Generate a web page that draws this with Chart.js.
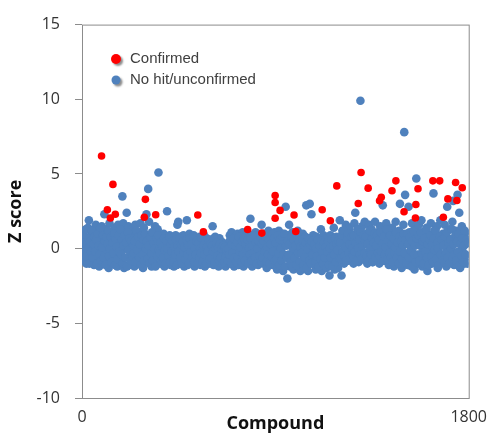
<!DOCTYPE html>
<html>
<head>
<meta charset="utf-8">
<script src="https://cdn.jsdelivr.net/npm/chart.js@4.4.1/dist/chart.umd.min.js"></script>
<style>
  html, body { margin: 0; background: #fff; }
</style>
</head>
<body>
<canvas id="zChart" width="497" height="435"></canvas>
<script>
// Z scores of the unconfirmed compounds, read for every 4th compound (0, 4, 8, ... 1796)
const compoundStep = 4;
const blueZ = [
  0.3,-0.6,1.1,-0.2,0.6,-1.0,0.1,1.4,1.9,0.8,-0.8,0.2,1.0,-0.1,-1.1,
  0.5,1.6,-0.5,0.0,1.2,-1.2,0.7,-0.3,1.5,0.3,-0.9,2.3,-0.1,1.3,-0.7,
  0.4,-1.3,1.7,0.1,-0.6,1.1,0.6,-1.0,1.4,-0.2,0.8,-1.2,1.6,0.2,-0.4,
  1.0,-0.9,3.5,1.7,-1.3,0.0,1.2,2.4,0.7,1.5,-1.1,0.3,-0.3,1.3,-0.8,
  0.9,-1.2,1.6,0.2,-0.5,1.1,-1.0,0.6,1.7,-0.2,0.4,-1.3,1.4,0.1,-0.7,
  2.3,-0.9,4.0,1.8,-0.4,0.0,-1.2,1.0,0.7,-0.6,1.5,-1.1,0.3,1.3,5.1,
  0.6,-1.0,0.2,0.9,-0.5,1.0,-1.2,0.4,-0.2,2.5,-0.8,0.1,0.9,-1.1,0.5,
  -0.4,0.7,-1.2,0.3,0.9,-0.7,1.6,1.8,0.5,-1.0,0.8,0.0,-0.6,0.9,-1.2,
  0.4,-0.3,1.9,-1.1,0.2,1.0,-0.6,0.6,-0.9,0.1,0.9,-1.2,0.5,-0.2,0.7,
  -0.8,0.3,0.8,-1.1,0.0,0.6,-0.5,0.9,-1.2,0.2,0.7,-0.7,0.4,-1.0,0.1,
  0.6,-0.4,1.5,-1.1,0.3,0.8,-0.8,0.0,0.5,-1.2,0.7,-0.3,0.2,-0.9,0.4,
  -0.6,0.3,-1.2,0.0,-0.4,0.2,-1.0,0.9,-0.2,1.1,-0.8,0.5,-1.2,0.8,0.1,
  -0.5,1.0,-1.1,0.4,0.7,-0.8,0.0,1.1,-1.2,0.6,-0.3,0.9,-0.9,0.2,1.0,
  0.4,2.0,0.5,-1.2,0.8,0.1,-0.9,1.1,-0.3,0.6,-1.1,0.9,0.0,-0.7,1.6,
  0.3,-1.0,1.0,-0.4,0.7,-1.3,0.2,1.2,-0.7,0.5,-0.1,0.9,-1.1,0.4,1.1,
  -0.6,0.8,-1.4,0.1,1.2,-0.9,0.5,-0.2,1.0,-1.5,0.3,0.7,2.8,-0.5,-2.0,
  0.9,1.6,-1.2,0.2,-0.7,1.1,-1.4,0.4,0.8,-0.3,-1.0,1.2,0.0,0.6,-1.5,
  0.5,-0.8,1.0,-1.3,0.2,0.8,2.9,-0.4,-1.5,0.6,3.0,0.1,2.3,-1.0,0.9,
  -0.6,0.4,-1.4,0.8,0.0,-1.1,0.6,-0.3,1.3,-1.5,0.3,0.9,-0.8,0.5,-1.2,
  0.7,-0.4,0.2,-1.8,0.9,-1.0,0.4,-0.6,1.4,-1.4,0.1,0.8,-0.2,-1.3,0.6,
  1.9,-0.5,-1.8,1.2,0.3,-1.0,0.8,1.6,-0.2,0.5,-0.8,1.4,0.0,1.0,-0.6,
  0.6,-1.0,1.7,2.4,0.2,-0.4,1.1,-0.9,0.8,9.9,-0.1,1.5,-0.7,0.4,1.8,
  -0.3,1.0,-1.0,0.6,1.6,-0.6,0.2,1.3,-0.9,0.8,-0.2,1.8,0.4,-0.8,1.1,
  0.0,-1.0,1.5,0.5,-0.5,2.9,1.0,-0.8,0.3,1.7,-0.3,0.7,-1.1,1.2,0.1,
  -0.6,1.4,0.4,-1.2,0.9,1.8,-0.2,0.6,-0.9,1.2,3.0,0.0,-1.3,0.8,1.6,
  7.8,3.6,-0.5,0.5,-1.1,2.8,1.1,0.2,-0.8,1.7,-0.3,0.9,-1.4,1.3,4.7,
  0.4,-1.0,1.6,0.7,-0.4,1.9,-1.2,0.1,1.1,-0.7,0.6,1.4,-1.5,0.3,0.9,
  -0.2,1.7,-1.0,0.5,3.7,1.2,-0.6,0.0,1.5,-1.3,0.8,-0.3,1.9,0.4,-0.9,
  1.0,-0.5,1.6,0.2,-1.2,2.8,0.7,-0.8,1.3,0.1,-0.3,1.8,3.2,-1.1,0.6,
  1.2,-0.6,3.6,0.4,2.4,-1.3,0.9,1.5,-0.2,0.6,-1.0,1.1,0.3,-0.5,0.8
];
// the compounds in between (2, 6, 10, ... 1798)
const blueZ2 = [
  -0.3,0.9,-0.8,0.4,1.3,-0.5,0.0,0.7,-1.0,0.5,-0.2,1.2,-0.6,0.3,0.8,
  -0.2,0.6,-1.0,1.0,0.2,-0.4,1.4,-0.8,0.1,0.9,-0.6,0.5,-1.1,0.8,0.3,
  1.2,-0.5,0.0,0.8,-0.9,0.4,-0.3,1.0,-1.1,0.6,0.1,-0.7,0.9,-0.2,1.3,
  -0.4,0.6,-1.0,0.2,0.9,-0.6,0.4,-1.2,1.1,-0.1,0.7,-0.8,0.5,-0.5,0.2,
  -0.3,0.5,-0.9,1.2,-0.1,0.8,-0.6,0.3,-1.1,0.9,-0.4,0.6,-0.8,1.0,0.0,
  0.5,-0.7,0.2,-1.0,0.8,-0.3,1.1,-0.8,0.4,0.0,-1.2,0.7,-0.5,0.9,-0.1,
  -0.3,0.4,-0.8,0.1,-0.6,0.7,-0.1,-1.0,0.5,0.0,-0.5,0.8,-0.9,0.3,-0.2,
  0.5,-0.9,0.1,-0.4,0.6,-1.1,0.2,-0.2,0.7,-0.6,0.3,-1.0,0.5,-0.3,0.1,
  -0.7,0.6,-0.4,0.2,-1.0,0.7,-0.2,0.3,-0.6,0.8,-0.9,0.0,-0.4,0.5,-1.0,
  0.4,-0.6,0.0,-0.3,0.7,-0.9,0.2,-0.4,0.5,-1.0,0.1,-0.2,0.6,-0.7,0.3,
  -0.6,0.2,-0.2,0.7,-0.9,0.0,0.4,-0.5,0.1,-0.8,0.3,-0.6,0.0,-1.0,0.2,
  -0.9,0.1,-0.5,-0.1,-0.8,0.0,-0.4,0.6,-1.0,0.3,-0.3,0.7,-0.6,0.2,-0.9,
  0.4,-0.6,0.8,-0.2,0.1,-0.9,0.5,-0.4,0.7,-0.8,0.3,-0.1,0.6,-1.0,0.0,
  -0.4,0.7,-0.8,0.2,-0.3,0.9,-0.6,0.4,-1.0,0.0,0.5,-0.5,0.8,-0.9,0.3,
  -0.6,0.5,-0.2,0.8,-0.9,0.1,-0.4,0.6,-1.0,0.3,-0.5,1.0,-0.2,0.7,-0.8,
  0.4,-0.7,0.9,-0.3,-1.1,0.6,0.0,-0.8,0.8,-0.4,1.0,-1.2,0.2,-0.6,0.5,
  -0.4,0.3,-0.9,0.8,-1.2,0.0,0.6,-0.6,0.2,-1.1,0.9,-0.3,0.5,-0.9,0.1,
  -0.3,0.6,-1.1,0.2,-0.6,0.4,-1.3,0.0,0.7,-0.8,0.3,-1.0,0.5,-0.4,0.1,
  0.3,-0.9,0.0,-0.5,0.6,-1.2,0.2,-0.7,0.5,-0.2,-1.0,0.4,-0.6,0.1,-1.3,
  -0.2,0.5,-1.1,0.0,-0.6,0.6,-1.2,0.2,-0.4,0.7,-0.9,0.3,-0.1,0.5,-0.7,
  0.4,-0.7,0.9,-0.2,1.2,-0.5,0.1,-0.8,0.6,1.0,-0.3,0.3,-0.6,0.8,0.0,
  -0.5,0.9,-0.2,0.4,-0.8,1.3,0.0,0.6,-0.4,1.1,-0.7,0.2,0.9,-0.3,0.5,
  0.8,-0.5,0.3,-0.8,1.2,0.0,-0.4,0.7,-0.9,0.4,1.0,-0.6,0.2,0.9,-0.3,
  0.6,-0.5,1.1,-0.2,0.3,-0.8,0.8,-0.4,0.1,1.3,-0.7,0.5,-0.3,0.9,-0.6,
  0.3,-0.9,0.7,-0.3,0.1,1.1,-0.6,0.4,-1.0,0.8,-0.2,0.5,-0.7,0.2,1.0,
  -0.3,0.6,-0.9,1.0,0.3,-0.6,0.8,-0.1,-1.2,0.5,1.2,-0.4,0.2,-0.9,0.7,
  -0.4,0.9,-0.8,0.2,1.1,-0.3,0.5,-1.0,0.7,-0.2,1.3,-0.6,0.3,-1.1,0.6,
  0.9,-0.5,0.3,-0.9,0.7,-0.1,1.2,-0.7,0.4,0.0,-1.1,0.8,-0.4,0.6,-0.8,
  0.2,-0.9,0.8,-0.3,1.1,-0.6,0.4,-1.0,0.6,0.0,1.3,-0.7,0.3,-0.4,0.9,
  -0.8,0.5,-0.2,1.0,-1.1,0.3,-0.5,0.7,-0.9,0.2,1.2,-0.4,0.6,-1.0,0.4
];

// confirmed hits
const redCompound = [91,118,132,144,155,290,295,343,539,565,771,837,899,899,922,899,987,995,
  1118,1156,1186,1286,1299,1332,1385,1393,1443,1461,1499,1552,1554,1564,1633,1665,1682,1703,1739,1745,1770];
const redZ = [6.2,2.6,2.05,4.3,2.3,2.1,3.3,2.27,2.25,1.12,1.28,1.04,3.55,3.09,2.56,2.03,2.25,1.15,
  2.6,1.87,4.2,3.02,5.1,4.05,3.2,3.44,3.88,4.54,2.47,2.05,2.96,4.01,4.54,4.54,2.1,3.33,4.43,3.22,4.08];

const yTicks = [-10, -5, 0, 5, 10, 15];
const xTicks = [0, 1800];

const blueColor = '#4F81BD';
const redColor = '#FF0000';

const bluePoints = blueZ.map((z, i) => ({ x: i * compoundStep, y: z }))
  .concat(blueZ2.map((z, i) => ({ x: i * compoundStep + 2, y: z })));

const boxPlugin = {
  id: 'box',
  beforeDatasetsDraw(chart) {
    const { ctx, chartArea: a } = chart;
    ctx.save();
    ctx.strokeStyle = '#8c8c8c';
    ctx.lineWidth = 1;
    ctx.strokeRect(a.left + 0.5, a.top + 0.5, a.right - a.left, a.bottom - a.top);
    ctx.restore();
  },
  afterDraw(chart) {
    const ctx = chart.ctx;
    const items = [
      { label: 'Confirmed', color: redColor, r: 5, y: 59 },
      { label: 'No hit/unconfirmed', color: blueColor, r: 4.5, y: 80 }
    ];
    ctx.save();
    ctx.font = '15px "Liberation Sans", Arial, sans-serif';
    ctx.textBaseline = 'middle';
    items.forEach(it => {
      ctx.save();
      ctx.shadowColor = 'rgba(0,0,0,0.45)';
      ctx.shadowOffsetX = 2;
      ctx.shadowOffsetY = 2;
      ctx.shadowBlur = 2;
      ctx.fillStyle = it.color;
      ctx.beginPath();
      ctx.arc(116, it.y, it.r, 0, Math.PI * 2);
      ctx.fill();
      ctx.restore();
      ctx.fillStyle = '#404040';
      ctx.fillText(it.label, 130, it.y);
    });
    ctx.restore();
  }
};

new Chart(document.getElementById('zChart'), {
  type: 'scatter',
  data: {
    datasets: [
      {
        label: 'Confirmed',
        data: redCompound.map((c, i) => ({ x: c, y: redZ[i] })),
        backgroundColor: redColor,
        borderWidth: 0,
        pointRadius: 3.8
      },
      {
        label: 'No hit/unconfirmed',
        data: bluePoints,
        backgroundColor: blueColor,
        borderWidth: 0,
        pointRadius: 4.3
      }
    ]
  },
  options: {
    responsive: false,
    animation: false,
    layout: { padding: { top: 20, right: 20, left: 0, bottom: 0 } },
    plugins: { legend: { display: false }, tooltip: { enabled: false } },
    scales: {
      x: {
        type: 'linear',
        min: 0,
        max: 1800,
        afterBuildTicks: s => { s.ticks = xTicks.map(v => ({ value: v })); },
        afterFit: s => { s.height = 37; },
        grid: { display: false, drawTicks: false },
        border: { display: false },
        ticks: { padding: 10, color: '#333', maxRotation: 0, callback: v => String(v),
                 font: { family: '"Open Sans", sans-serif', size: 16 } },
        title: { display: true, text: 'Compound', color: '#111', padding: 0,
                 font: { family: '"Open Sans", sans-serif', size: 18, weight: 'bold' } }
      },
      y: {
        min: -10,
        max: 15,
        afterBuildTicks: s => { s.ticks = yTicks.map(v => ({ value: v })); },
        afterFit: s => { s.width = 82; },
        grid: { drawOnChartArea: false, tickLength: 7, color: '#8c8c8c' },
        border: { display: false },
        ticks: { padding: 15, color: '#333', font: { family: '"Open Sans", sans-serif', size: 16 } },
        title: { display: true, text: 'Z score', color: '#111', padding: { top: 5, bottom: 0 },
                 font: { family: '"Open Sans", sans-serif', size: 18, weight: 'bold' } }
      }
    }
  },
  plugins: [boxPlugin]
});
</script>
</body>
</html>
